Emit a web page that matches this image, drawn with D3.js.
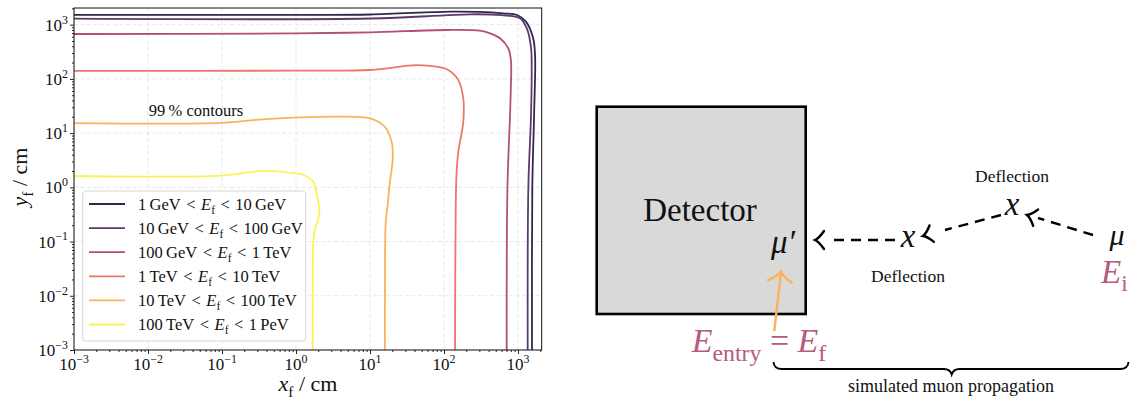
<!DOCTYPE html>
<html>
<head>
<meta charset="utf-8">
<script src="https://d3js.org/d3.v7.min.js"></script>
<style>
  body { margin: 0; background: #fff; }
  svg { display: block; }
  text { font-family: "Liberation Serif", "Times New Roman", serif; fill: #111; }
</style>
</head>
<body>
<svg id="fig" width="1132" height="400"></svg>
<script>
// ---- data ----
const decades = [1e-3, 1e-2, 1e-1, 1, 10, 100, 1000];
const decadeExps = ["\u22123", "\u22122", "\u22121", "0", "1", "2", "3"];

const seriesRanges = [
  ["1\u2009GeV", "10\u2009GeV"],
  ["10\u2009GeV", "100\u2009GeV"],
  ["100\u2009GeV", "1\u2009TeV"],
  ["1\u2009TeV", "10\u2009TeV"],
  ["10\u2009TeV", "100\u2009TeV"],
  ["100\u2009TeV", "1\u2009PeV"]
];
const seriesColors = ["#2c2b4f", "#5d3a6c", "#b4506f", "#ec7765", "#fdb05d", "#f7f35a"];

// 99 % contours, [x_f cm, y_f cm]
const contourGeV1 = [[1e-3,1515],[1,1520],[10,1540],[120,1740],[300,1720],[630,1620],[970,1510],[1280,1140],[1600,570],[1700,276],[1650,22],[1560,1],[1546,1e-3]];
const contourGeV10 = [[1e-3,1290],[10,1300],[100,1480],[225,1555],[600,1500],[1064,1313],[1312,860],[1500,372],[1530,136],[1500,22],[1380,1],[1352,1e-3]];
const contourGeV100 = [[1e-3,673],[1,690],[10,724],[109,798],[306,774],[419,693],[571,561],[740,367],[804,208],[800,67],[780,21.6],[720,1],[703,1e-3]];
const contourTeV1 = [[1e-3,140],[1,142],[10,146],[42.8,180],[79.6,168],[114,146],[156,95],[182,44],[182,16],[156,4.5],[148,1.9],[144,0.47],[141,1e-3]];
const contourTeV10 = [[1e-3,15.3],[0.1,15.5],[0.36,18],[3.55,20.1],[10,18.7],[15.9,13.1],[19.6,6.9],[20.3,3.4],[18.6,1.27],[17.3,0.47],[16.3,0.22],[15.9,0.01],[15.9,1e-3]];
const contourTeV100 = [[1e-3,1.62],[0.1,1.65],[0.327,2.0],[0.75,1.89],[1.26,1.69],[1.71,1.27],[1.94,0.67],[2.07,0.33],[1.79,0.163],[1.71,0.093],[1.68,0.01],[1.68,1e-3]];
const contours = [contourGeV1, contourGeV10, contourGeV100, contourTeV1, contourTeV10, contourTeV100];

const pink = "#b65a7e";
const svg = d3.select("#fig");

// write simple mathtext: parts = [{t, it, sub, sup}]
function mathText(sel, parts, baseSize) {
  let shift = 0;
  parts.forEach(p => {
    let target = p.sub ? baseSize * 0.25 : (p.sup ? -baseSize * 0.42 : 0);
    sel.append("tspan")
      .attr("dy", target - shift)
      .style("font-style", p.it ? "italic" : "normal")
      .style("font-size", (p.sub || p.sup ? baseSize * 0.7 : baseSize) + "px")
      .text(p.t);
    shift = target;
  });
  return sel;
}

// ---- left panel: contour plot ----
const x = d3.scaleLog().domain([1e-3, 2090]).range([74, 541.7]);
const y = d3.scaleLog().domain([1e-3, 2030]).range([350, 8]);
const [x0, x1] = x.range(), [y0, y1] = y.range();

const minors = [];
decades.forEach(d => { for (let k = 2; k <= 9; k++) minors.push(d * k); });

svg.append("clipPath").attr("id", "plotclip")
  .append("rect").attr("x", x0).attr("y", y1).attr("width", x1 - x0).attr("height", y0 - y1);

// grid
const grid = svg.append("g").attr("stroke", "#e4e4e4").attr("stroke-width", 0.9).attr("stroke-dasharray", "4,2.5");
grid.selectAll(".gx").data(decades).join("line")
  .attr("x1", d => x(d)).attr("x2", d => x(d)).attr("y1", y1).attr("y2", y0);
grid.selectAll(".gy").data(decades).join("line")
  .attr("y1", d => y(d)).attr("y2", d => y(d)).attr("x1", x0).attr("x2", x1);

// contours
const line = d3.line().x(d => x(d[0])).y(d => y(d[1])).curve(d3.curveCatmullRom.alpha(0.5));
svg.append("g").attr("clip-path", "url(#plotclip)")
  .selectAll("path").data(contours).join("path")
  .attr("d", line).attr("fill", "none")
  .attr("stroke", (d, i) => seriesColors[i]).attr("stroke-width", 1.8);

// axes
svg.append("g").attr("transform", `translate(0,${y0})`)
  .call(d3.axisBottom(x).tickValues(decades).tickSize(4).tickFormat(""));
svg.append("g").attr("transform", `translate(0,${y0})`)
  .call(d3.axisBottom(x).tickValues(minors.filter(v => v <= 2090)).tickSize(2).tickFormat(""));
svg.append("g").attr("transform", `translate(${x0},0)`)
  .call(d3.axisLeft(y).tickValues(decades).tickSize(4).tickFormat(""));
svg.append("g").attr("transform", `translate(${x0},0)`)
  .call(d3.axisLeft(y).tickValues(minors.filter(v => v <= 2030)).tickSize(2).tickFormat(""));
svg.selectAll(".domain").remove();
svg.selectAll(".tick line").attr("stroke", "#111").attr("stroke-width", 0.9);

// tick labels
decades.forEach((d, i) => {
  mathText(svg.append("text").attr("x", x(d)).attr("y", 370).attr("text-anchor", "middle"),
    [{ t: "10" }, { t: decadeExps[i], sup: true }], 17);
  mathText(svg.append("text").attr("x", 68).attr("y", y(d) + 6).attr("text-anchor", "end"),
    [{ t: "10" }, { t: decadeExps[i], sup: true }], 17);
});

// frame
svg.append("rect").attr("x", x0).attr("y", y1).attr("width", x1 - x0).attr("height", y0 - y1)
  .attr("fill", "none").attr("stroke", "#111").attr("stroke-width", 1);

// axis labels
mathText(svg.append("text").attr("x", 308).attr("y", 391).attr("text-anchor", "middle"),
  [{ t: "x", it: true }, { t: "f", sub: true }, { t: " / cm" }], 22);
mathText(svg.append("text").attr("transform", "translate(27,177) rotate(-90)").attr("text-anchor", "middle"),
  [{ t: "y", it: true }, { t: "f", sub: true }, { t: " / cm" }], 22);

svg.append("text").attr("x", 196).attr("y", 116).attr("text-anchor", "middle")
  .style("font-size", "16.5px").text("99\u2009% contours");

// legend
const leg = svg.append("g");
leg.append("rect").attr("x", 82.7).attr("y", 191).attr("width", 223).attr("height", 150)
  .attr("rx", 3).attr("fill", "#fff").attr("fill-opacity", 0.85).attr("stroke", "#d5d5d5");
seriesRanges.forEach((r, i) => {
  const ry = 204 + i * 24.1;
  leg.append("line").attr("x1", 89).attr("x2", 125).attr("y1", ry).attr("y2", ry)
    .attr("stroke", seriesColors[i]).attr("stroke-width", 1.8);
  mathText(leg.append("text").attr("x", 138).attr("y", ry + 5.5),
    [{ t: r[0] + "\u2004<\u2004" }, { t: "E", it: true }, { t: "f", sub: true }, { t: "\u2004<\u2004" + r[1] }], 16.5);
});

// ---- right panel: schematic ----
const dg = svg.append("g");
dg.append("rect").attr("x", 596.7).attr("y", 106.7).attr("width", 209).attr("height", 207.3)
  .attr("fill", "#d9d9d9").attr("stroke", "#000").attr("stroke-width", 2.6);
dg.append("text").attr("x", 700).attr("y", 221).attr("text-anchor", "middle")
  .style("font-size", "33px").text("Detector");

mathText(dg.append("text").attr("x", 783).attr("y", 253).attr("text-anchor", "middle"),
  [{ t: "\u03bc\u2032", it: true }], 33);

function arrowHead(g, tip, from, len, half, color, w) {
  const dx = tip[0] - from[0], dy = tip[1] - from[1];
  const L = Math.hypot(dx, dy), ux = dx / L, uy = dy / L, nx = -uy, ny = ux;
  const bx = tip[0] - ux * len, by = tip[1] - uy * len;
  const a1 = [bx + nx * half, by + ny * half], a2 = [bx - nx * half, by - ny * half];
  const c1 = [tip[0] - ux * len * 0.45 + nx * half * 0.2, tip[1] - uy * len * 0.45 + ny * half * 0.2];
  const c2 = [tip[0] - ux * len * 0.45 - nx * half * 0.2, tip[1] - uy * len * 0.45 - ny * half * 0.2];
  g.append("path")
    .attr("d", `M${a1}Q${c1} ${tip}Q${c2} ${a2}`)
    .attr("fill", "none").attr("stroke", color).attr("stroke-width", w).attr("stroke-linecap", "round");
}

// dashed muon path: mu -> deflection -> deflection -> mu'
const dash = dg.append("g").attr("stroke", "#000").attr("stroke-width", 2.4).attr("stroke-dasharray", "10,7").attr("fill", "none");
dash.append("line").attr("x1", 1093).attr("y1", 235).attr("x2", 1038).attr("y2", 218);
dash.append("line").attr("x1", 1001).attr("y1", 215).attr("x2", 945).attr("y2", 230);
dash.append("line").attr("x1", 895).attr("y1", 240).attr("x2", 828).attr("y2", 240);
arrowHead(dg, [1027, 215], [1093, 235], 9, 8.5, "#000", 2.4);
arrowHead(dg, [923, 236], [1001, 215], 9, 8.5, "#000", 2.4);
arrowHead(dg, [815, 240], [895, 240], 9, 9, "#000", 2.4);

mathText(dg.append("text").attr("x", 908).attr("y", 247).attr("text-anchor", "middle"), [{ t: "x", it: true }], 33);
mathText(dg.append("text").attr("x", 1012).attr("y", 215).attr("text-anchor", "middle"), [{ t: "x", it: true }], 33);
mathText(dg.append("text").attr("x", 1117).attr("y", 245).attr("text-anchor", "middle"), [{ t: "\u03bc", it: true }], 30);
mathText(dg.append("text").attr("x", 1101).attr("y", 283),
  [{ t: "E", it: true }, { t: "i", sub: true }], 33).selectAll("tspan").style("fill", pink);

dg.append("text").attr("x", 1012).attr("y", 182).attr("text-anchor", "middle").style("font-size", "17.5px").text("Deflection");
dg.append("text").attr("x", 908).attr("y", 282).attr("text-anchor", "middle").style("font-size", "17.5px").text("Deflection");

// orange arrow: entry energy
dg.append("line").attr("x1", 774.3).attr("y1", 331).attr("x2", 781).attr("y2", 272)
  .attr("stroke", "#fdb05d").attr("stroke-width", 2.4);
arrowHead(dg, [781, 271.5], [774.3, 331], 10, 12, "#fdb05d", 2.4);
mathText(dg.append("text").attr("x", 759).attr("y", 352).attr("text-anchor", "middle"),
  [{ t: "E", it: true }, { t: "entry", sub: true }, { t: " = " }, { t: "E", it: true }, { t: "f", sub: true }], 34)
  .selectAll("tspan").style("fill", pink);

// brace
dg.append("path")
  .attr("d", "M773.5,362 Q774,369 782,369 L944,369 Q950,369 951.7,374.5 Q953.4,369 959.4,369 L1120,369 Q1128,369 1128.5,362")
  .attr("fill", "none").attr("stroke", "#000").attr("stroke-width", 1.9);
dg.append("text").attr("x", 951).attr("y", 392).attr("text-anchor", "middle").style("font-size", "18px")
  .text("simulated muon propagation");
</script>
</body>
</html>
